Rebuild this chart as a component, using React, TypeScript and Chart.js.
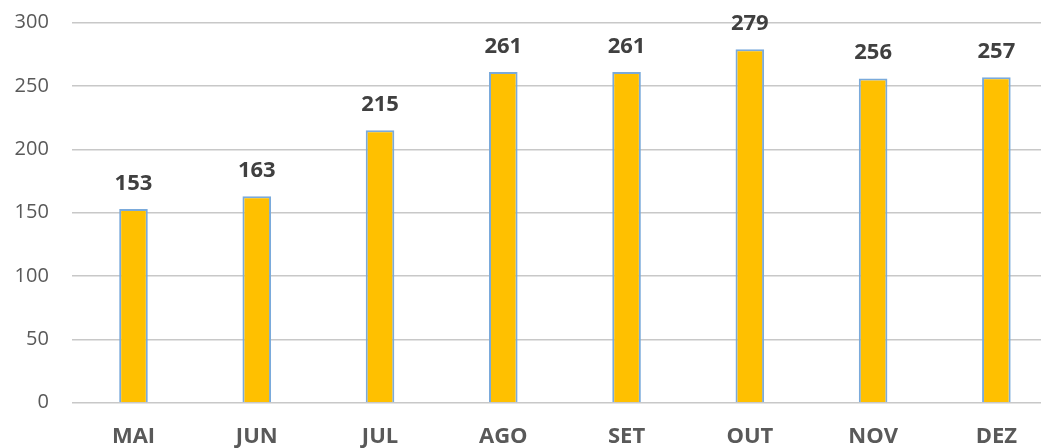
import React, { useEffect, useRef } from "react";
import { Chart, registerables } from "chart.js";

Chart.register(...registerables);

const categories = ["MAI", "JUN", "JUL", "AGO", "SET", "OUT", "NOV", "DEZ"];
const values = [153, 163, 215, 261, 261, 279, 256, 257];
const yTicks = [0, 50, 100, 150, 200, 250, 300];

const FONT = "'Open Sans', 'Noto Sans', sans-serif";

const dataLabels = {
  id: "dataLabels",
  afterDatasetsDraw(chart: any) {
    const ctx = chart.ctx;
    const meta = chart.getDatasetMeta(0);
    ctx.save();
    ctx.font = `bold 22px ${FONT}`;
    ctx.fillStyle = "#404040";
    ctx.textAlign = "center";
    ctx.textBaseline = "alphabetic";
    meta.data.forEach((bar: any, i: number) => {
      ctx.fillText(String(values[i]), bar.x, bar.y - 19);
    });
    ctx.restore();
  },
};

export default function App() {
  const ref = useRef<HTMLCanvasElement | null>(null);
  useEffect(() => {
    if (!ref.current) return;
    const chart = new Chart(ref.current, {
      type: "bar",
      data: {
        labels: categories,
        datasets: [
          {
            data: values,
            backgroundColor: "#FFC000",
            borderColor: "#7AAADB",
            borderWidth: 2,
            categoryPercentage: 1,
            barPercentage: 0.232,
          },
        ],
      },
      options: {
        responsive: false,
        animation: false,
        layout: { padding: { top: 22.7, right: 0, bottom: 0, left: 0 } },
        plugins: {
          legend: { display: false },
          tooltip: { enabled: false },
        },
        scales: {
          x: {
            grid: { display: false, drawTicks: false },
            border: { display: false },
            ticks: {
              color: "#595959",
              font: { family: FONT, size: 22, weight: "bold" },
              padding: 21,
              maxRotation: 0,
            },
            afterFit: (s: any) => {
              s.height = 45.3;
              s.paddingLeft = 0;
              s.paddingRight = 0;
            },
          },
          y: {
            min: 0,
            max: 300,
            afterBuildTicks: (s: any) => {
              s.ticks = yTicks.map((v) => ({ value: v }));
            },
            grid: { color: "#C8C8C8", lineWidth: 1.4, drawTicks: false },
            border: { display: false },
            ticks: {
              color: "#595959",
              font: { family: FONT, size: 20 },
              padding: 23,
            },
            afterFit: (s: any) => {
              s.width = 71.85;
              s.paddingTop = 0;
              s.paddingBottom = 0;
            },
          },
        },
      },
      plugins: [dataLabels],
    });
    return () => chart.destroy();
  }, []);
  return (
    <div
      style={{
        position: "fixed",
        left: 0,
        top: 0,
        width: 1041,
        height: 448,
        overflow: "hidden",
        background: "#fff",
      }}
    >
      <canvas ref={ref} width={1058} height={448} style={{ display: "block" }} />
    </div>
  );
}
